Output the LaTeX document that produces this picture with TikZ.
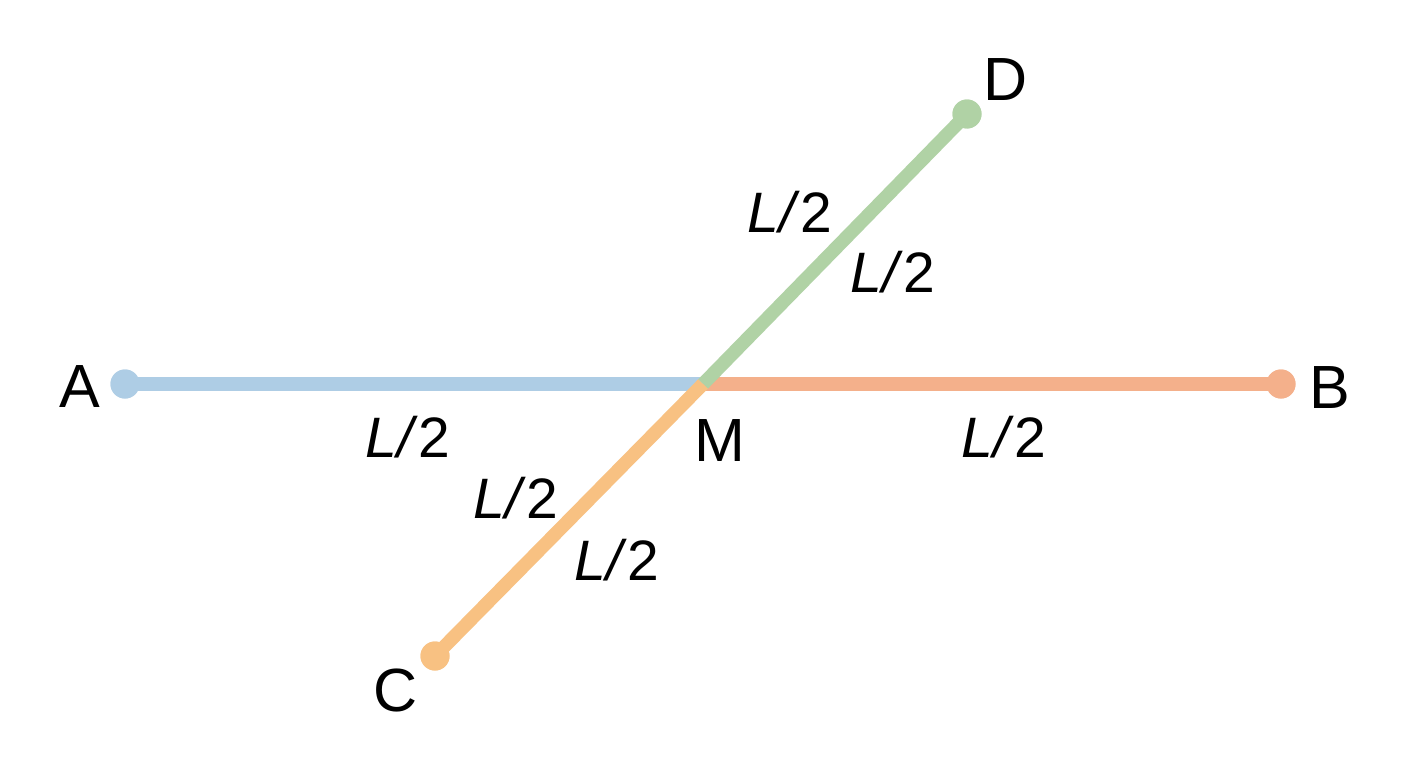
\documentclass[tikz,border=0pt]{standalone}
\usepackage{fontspec}
\setmainfont{Liberation Sans}
\definecolor{cblue}{HTML}{AECDE5}
\definecolor{csalmon}{HTML}{F4B08B}
\definecolor{cgreen}{HTML}{B0D2A5}
\definecolor{corange}{HTML}{F8C182}
\begin{document}
\begin{tikzpicture}[x=1pt,y=-1pt,
  seg/.style={line width=13.5pt},
  dotpt/.style={circle,fill=#1,minimum size=29pt,inner sep=0pt},
  ptlabel/.style={font=\fontsize{61}{68}\selectfont,inner sep=0pt},
  lenlabel/.style={font=\fontsize{57}{64}\selectfont,inner sep=0pt}]
\useasboundingbox[fill=white] (0,0) rectangle (1408,768);
\coordinate (M) at (703,384);
\node[dotpt=cblue] (A) at (125,384) {};
\node[dotpt=csalmon] (B) at (1281,384) {};
\node[dotpt=cgreen] (D) at (967,114) {};
\node[dotpt=corange] (C) at (435,656) {};
\draw[seg,cblue] (A.center) -- (M);
\draw[seg,csalmon] (M) -- (B.center);
\draw[seg,cgreen] (M) -- (D.center);
\draw[seg,corange] (M) -- (C.center);
\node[dotpt=cblue] at (A) {};
\node[dotpt=csalmon] at (B) {};
\node[dotpt=cgreen] at (D) {};
\node[dotpt=corange] at (C) {};
\node[ptlabel] (lA) at (80,387) {A};
\node[ptlabel] (lB) at (1330,388) {B};
\node[ptlabel] (lM) at (720,441) {M};
\node[ptlabel] (lD) at (1006,80) {D};
\node[ptlabel] (lC) at (396,690) {C};
\node[lenlabel] (l1) at (408,437) {\textit{L/}2};
\node[lenlabel] (l2) at (1004,437) {\textit{L/}2};
\node[lenlabel] (l3) at (790,212) {\textit{L/}2};
\node[lenlabel] (l4) at (893,272) {\textit{L/}2};
\node[lenlabel] (l5) at (516,498) {\textit{L/}2};
\node[lenlabel] (l6) at (617,560) {\textit{L/}2};
\end{tikzpicture}
\end{document}
